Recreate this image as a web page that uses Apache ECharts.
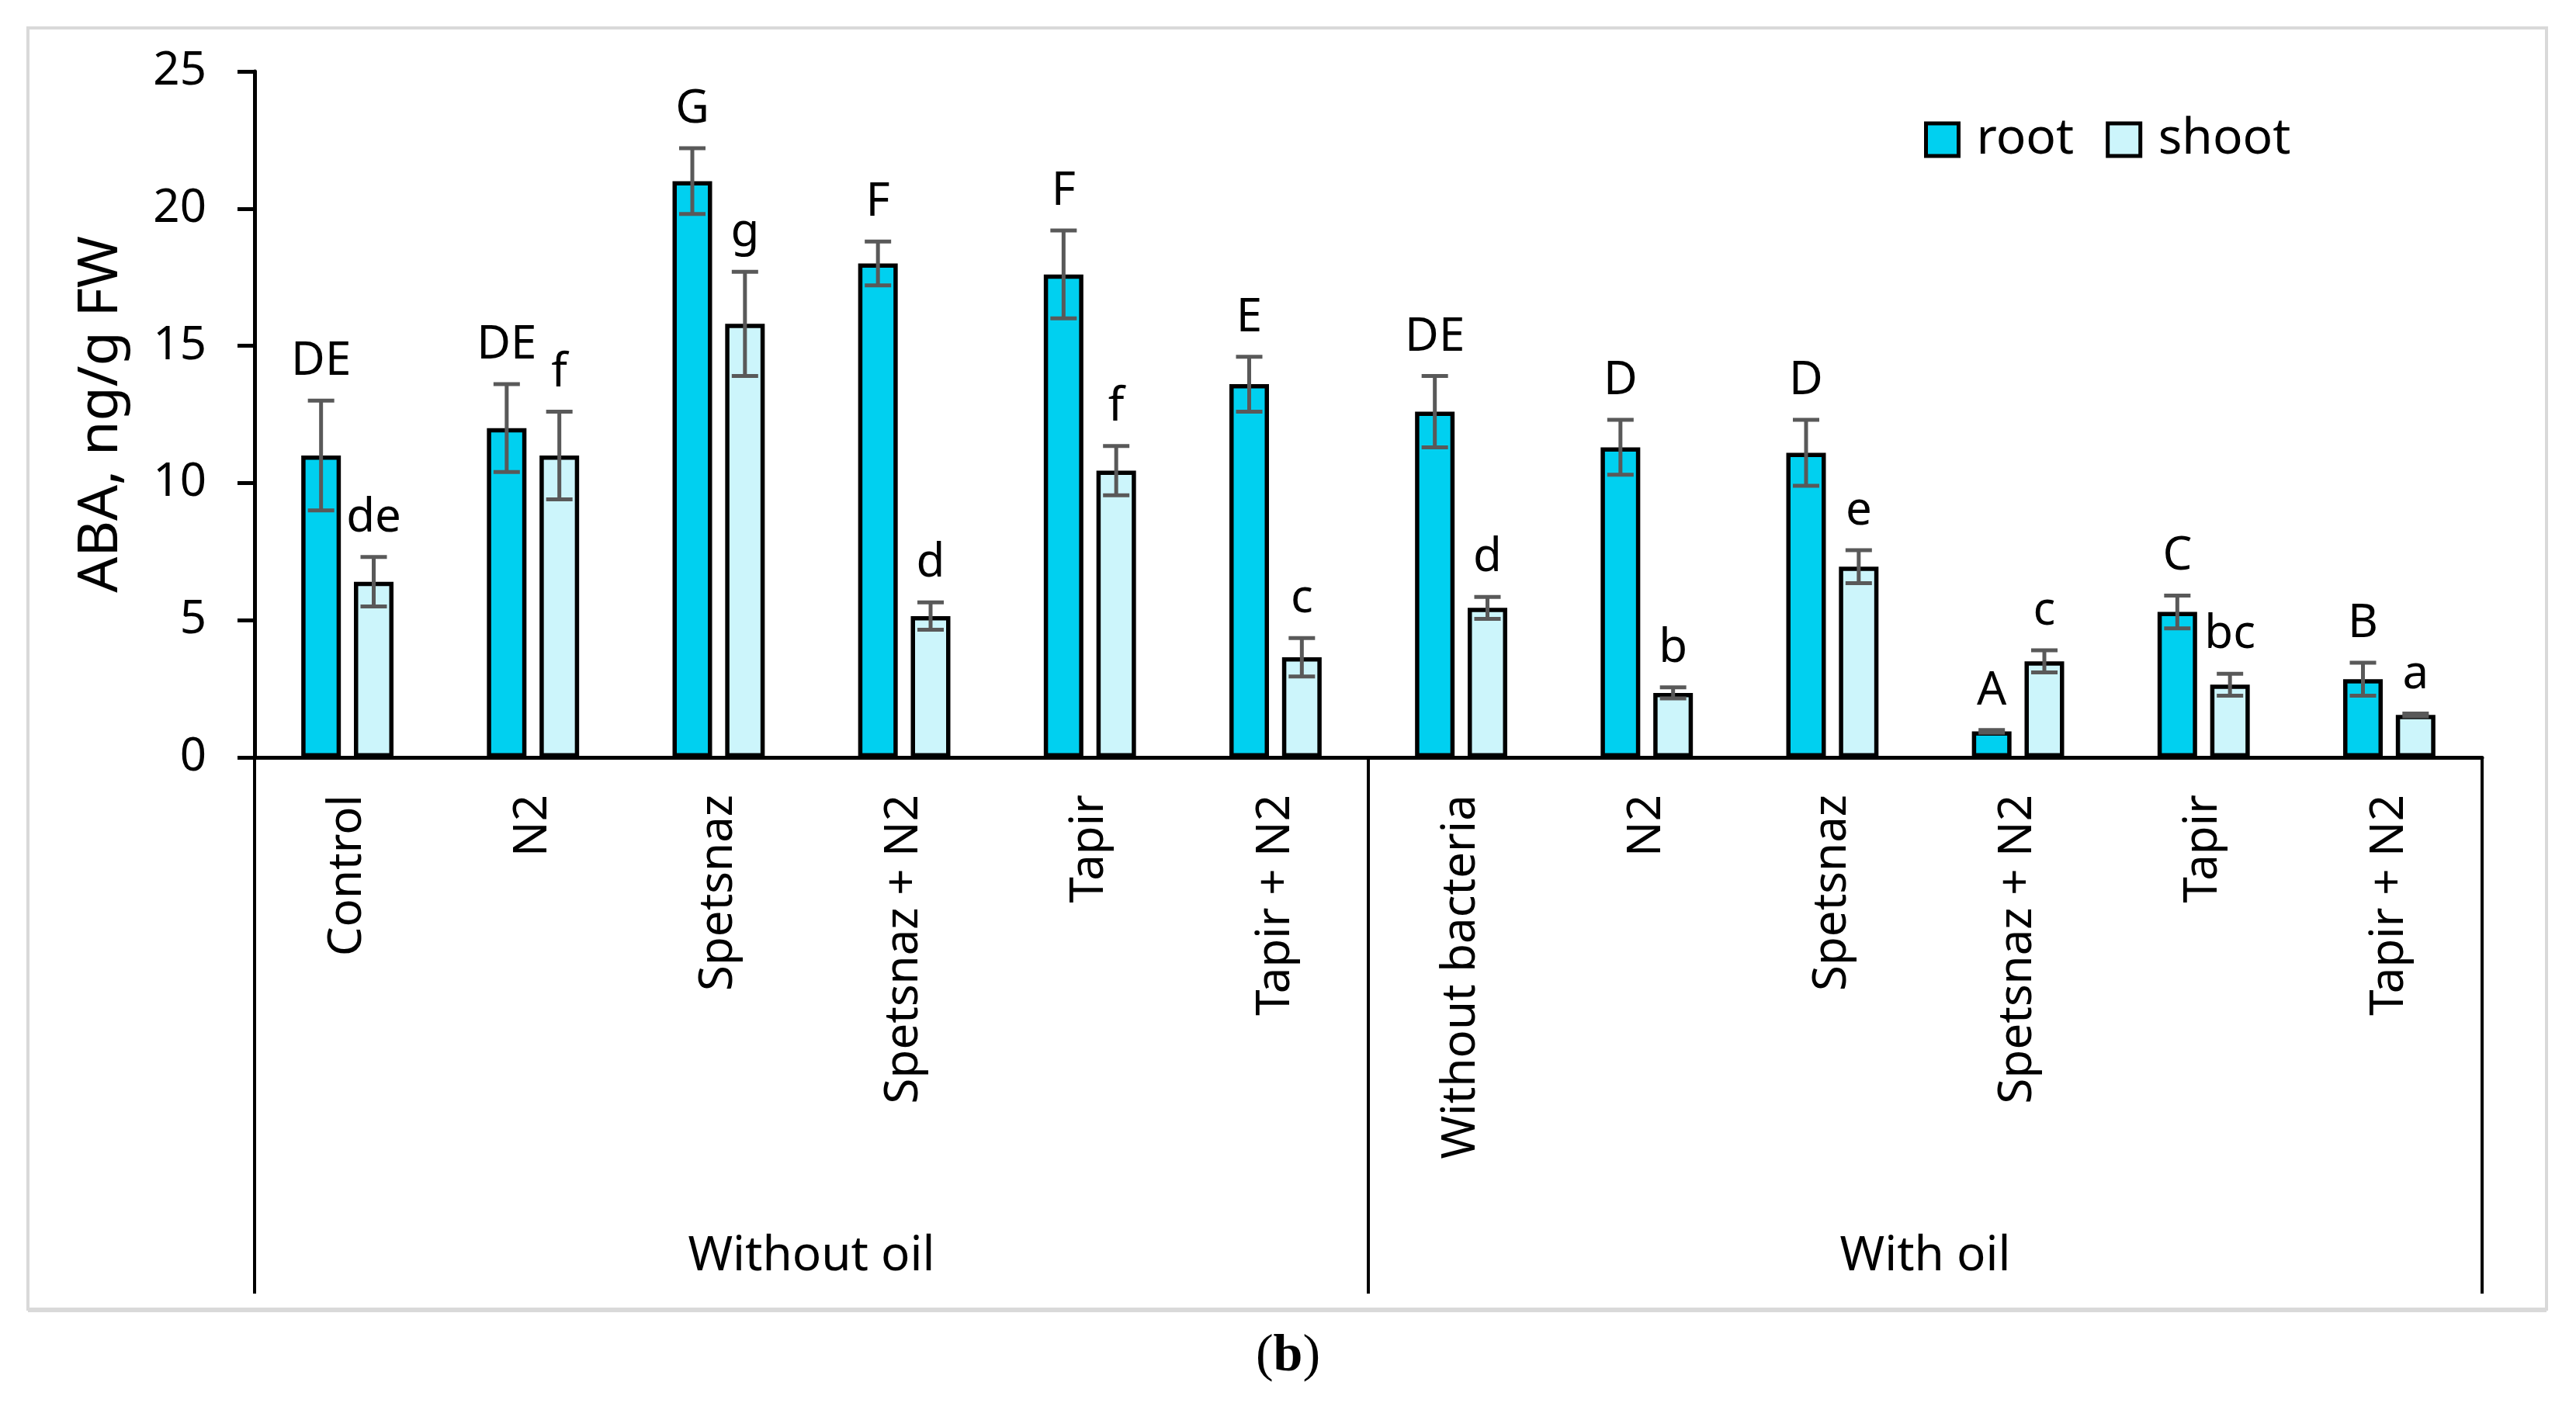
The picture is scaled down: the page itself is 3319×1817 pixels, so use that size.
<!DOCTYPE html>
<html><head><meta charset="utf-8">
<script src="https://cdn.jsdelivr.net/npm/echarts@6.0.0/dist/echarts.min.js"></script>
<style>html,body{margin:0;padding:0;background:#fff}#c{width:3319px;height:1817px}</style>
</head><body><div id="c"></div>
<script>
// ---- data ----
const categories = ['Control','N2','Spetsnaz','Spetsnaz + N2','Tapir','Tapir + N2','Without bacteria','N2','Spetsnaz','Spetsnaz + N2','Tapir','Tapir + N2'];
const groups = ['Without oil','With oil'];
const rootMean  = [11.0, 12.0, 21.0, 18.0, 17.6, 13.6, 12.6, 11.3, 11.1, 0.95, 5.3, 2.85];
const rootErr   = [2.0, 1.6, 1.2, 0.8, 1.6, 1.0, 1.3, 1.0, 1.2, 0.05, 0.6, 0.6];
const shootMean = [6.4, 11.0, 15.8, 5.15, 10.45, 3.65, 5.45, 2.35, 6.95, 3.5, 2.65, 1.55];
const shootErr  = [0.9, 1.6, 1.9, 0.5, 0.9, 0.7, 0.4, 0.2, 0.6, 0.4, 0.4, 0.05];
const rootLetters  = ['DE','DE','G','F','F','E','DE','D','D','A','C','B'];
const shootLetters = ['de','f','g','d','f','c','d','b','e','c','bc','a'];
const yTicks = {min: 0, max: 25, interval: 5};

const FONT = 'Noto Sans';
const BAR_W = 51, BAR_GAP = 0.33;
const BAR_OFF = BAR_W * (1 + BAR_GAP) / 2;

function errData(mean, err){ return mean.map((m,i)=>[i, m - err[i], m + err[i]]); }

function makeRender(sign, letters){
  return function(params, api){
    const i = api.value(0), lo = api.value(1), hi = api.value(2);
    const x = api.coord([i, 0])[0] + sign * BAR_OFF;
    const yLo = api.coord([i, lo])[1], yHi = api.coord([i, hi])[1];
    const ls = {stroke:'#595959', lineWidth:5};
    return {type:'group', children:[
      {type:'line', shape:{x1:x,y1:yLo,x2:x,y2:yHi}, style:ls},
      {type:'line', shape:{x1:x-17,y1:yHi,x2:x+17,y2:yHi}, style:ls},
      {type:'line', shape:{x1:x-17,y1:yLo,x2:x+17,y2:yLo}, style:ls},
      {type:'text', x:x, y:yHi-20, style:{text:letters[i], align:'center', verticalAlign:'bottom', fontSize:60, fontFamily:FONT, fill:'#000'}}
    ]};
  };
}

const chart = echarts.init(document.getElementById('c'), null, {renderer:'canvas'});
chart.setOption({
  backgroundColor:'#fff',
  animation:false,
  textStyle:{fontFamily:FONT},
  grid:{left:328, right:121, top:92, bottom:841, containLabel:false, outerBoundsMode:'none'},
  legend:{
    data:['root','shoot'], left:2474, top:143, itemWidth:42, itemHeight:42, itemGap:41,
    icon:'rect',
    itemStyle:{borderColor:'#000', borderWidth:5},
    textStyle:{fontSize:64, fontFamily:FONT, color:'#000', padding:[0,0,0,18]}
  },
  xAxis:[
    {type:'category', data:categories, position:'bottom',
     axisLine:{show:true, onZero:false, lineStyle:{color:'#000', width:5}},
     axisTick:{show:false},
     axisLabel:{interval:0, rotate:90, margin:48, fontSize:60, fontFamily:FONT, color:'#000'}},
    {type:'category', data:groups, position:'bottom',
     axisLine:{show:false, onZero:false},
     axisTick:{show:true, inside:false, length:691, lineStyle:{color:'#000', width:4}},
     axisLabel:{interval:0, margin:612, fontSize:62, fontFamily:FONT, color:'#000'}}
  ],
  yAxis:{type:'value', min:yTicks.min, max:yTicks.max, interval:yTicks.interval,
    name:'ABA, ng/g FW', nameLocation:'middle', nameGap:162, nameRotate:90,
    nameTextStyle:{fontSize:72, fontFamily:FONT, color:'#000'},
    splitLine:{show:false},
    axisLine:{show:true, lineStyle:{color:'#000', width:5}},
    axisTick:{show:true, length:22, lineStyle:{color:'#000', width:5}},
    axisLabel:{margin:62, fontSize:60, fontFamily:FONT, color:'#000'}},
  series:[
    {name:'root', type:'bar', data:rootMean, barWidth:BAR_W, barGap:(BAR_GAP*100)+'%',
     itemStyle:{color:'#00D0F0', borderColor:'#000', borderWidth:5.5}},
    {name:'shoot', type:'bar', data:shootMean, barWidth:BAR_W,
     itemStyle:{color:'#CCF5FB', borderColor:'#000', borderWidth:5.5}},
    {name:'rootErr', type:'custom', data:errData(rootMean, rootErr), renderItem:makeRender(-1, rootLetters), z:5},
    {name:'shootErr', type:'custom', data:errData(shootMean, shootErr), renderItem:makeRender(1, shootLetters), z:5}
  ],
  graphic:[
    {type:'rect', z:-10, shape:{x:36,y:36,width:3245,height:1651}, style:{fill:'none', stroke:'#d9d9d9', lineWidth:4}},
    {type:'line', z:-10, shape:{x1:36,y1:1688,x2:3281,y2:1688}, style:{stroke:'#d9d9d9', lineWidth:6}},
    {type:'text', left:'center', top:1714, style:{text:'{a|(}{b|b}{a|)}', rich:{
      a:{fontFamily:'Liberation Serif', fontSize:68, fill:'#000'},
      b:{fontFamily:'Liberation Serif', fontSize:68, fontWeight:'bold', fill:'#000'}}}}
  ]
});
</script></body></html>
